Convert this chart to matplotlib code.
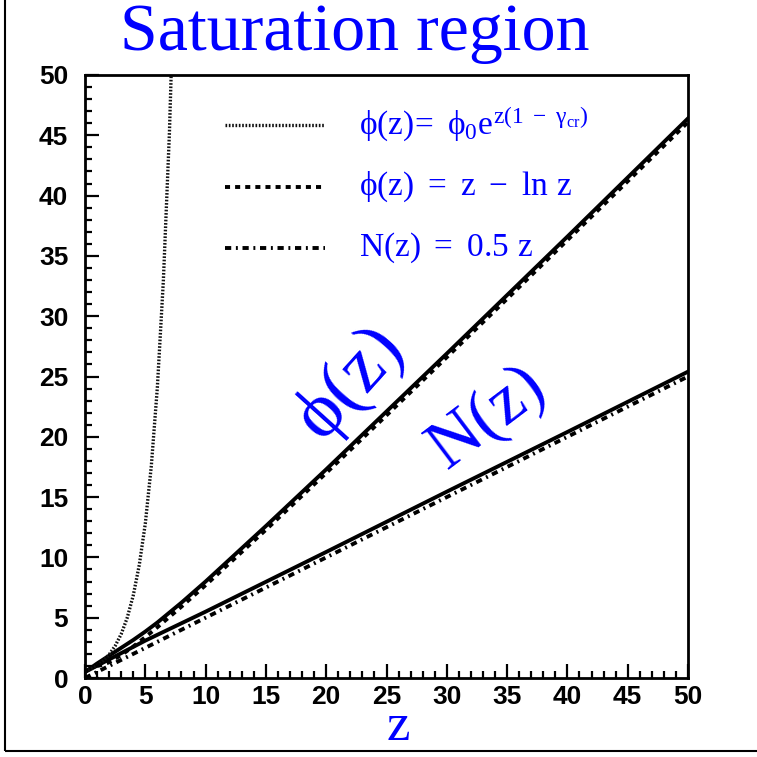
import matplotlib
matplotlib.use("Agg")
import matplotlib.pyplot as plt
from matplotlib.lines import Line2D
from matplotlib.patches import Rectangle

plt.rcParams['mathtext.fontset'] = 'custom'
plt.rcParams['mathtext.rm'] = 'Liberation Serif'
plt.rcParams['mathtext.it'] = 'Liberation Serif'
plt.rcParams['mathtext.bf'] = 'Liberation Serif:bold'

# ---------------- data ----------------
# exponential growth  phi0 * exp(z(1-gamma_cr))
z_exp = [0, 0.5, 1, 1.5, 2, 2.5, 3, 3.5, 4, 4.5, 5, 5.5, 6, 6.5, 7, 7.5]
phi_exp = [0.55, 0.75, 1.03, 1.42, 1.94, 2.66, 3.64, 4.99, 6.84, 9.37,
           12.8, 17.6, 24.1, 33.0, 45.2, 62.0]

# phi(z) = z - ln z (dashed)
z_phi = [1, 1.5, 2, 3, 4, 5, 6, 8, 10, 15, 20, 25, 30, 35, 40, 45, 50]
phi_asym = [1.0, 1.09, 1.31, 1.90, 2.61, 3.39, 4.21, 5.92, 7.70, 12.29,
            17.0, 21.78, 26.6, 31.44, 36.31, 41.19, 46.09]

# N(z) = 0.5 z (dash-dot)
z_n = [0, 50]
n_asym = [0.0, 25.0]

# numerical solutions (solid)
z_phi_sol = [0, 1, 2, 3, 4, 5, 6, 8, 10, 15, 20, 25, 30, 35, 40, 45, 50]
phi_sol = [0.5, 1.2, 1.85, 2.5, 3.15, 3.85, 4.6, 6.25, 8.0, 12.6, 17.3,
           22.1, 26.9, 31.75, 36.6, 41.5, 46.4]
z_n_sol = [0, 5, 10, 20, 30, 40, 50]
n_sol = [0.5, 3.1, 5.5, 10.45, 15.45, 20.4, 25.4]

x_ticks = [0, 5, 10, 15, 20, 25, 30, 35, 40, 45, 50]
y_ticks = [0, 5, 10, 15, 20, 25, 30, 35, 40, 45, 50]

legend_labels = [r'$\phi(z)\!=\ \phi_0e^{z(1\ -\ \gamma_{cr})}$',
                 r'$\phi(z)\ =\ z\ -\ \mathrm{ln}\ z$',
                 r'$N(z)\ =\ 0.5\ z$']

# ---------------- styles ----------------
sty_exp = dict(color='#111111', lw=2.4, linestyle=(0, (0.5, 0.5)))
sty_phi = dict(color='black', lw=2.8, linestyle=(0, (1.3, 1.3)))
sty_n = dict(color='black', lw=2.8, linestyle=(0, (1.6, 1.2, 0.5, 1.2)))
sty_sol = dict(color='black', lw=2.8, linestyle='-')

W = 757
fig = plt.figure(figsize=(W / 100, W / 100), dpi=100)
fig.patch.set_facecolor('white')

ax = fig.add_axes([85 / W, 1 - 678 / W, 603 / W, 603 / W])
ax.set_xlim(0, 50)
ax.set_ylim(0, 50)

ax.plot(z_phi_sol, phi_sol, **sty_sol)
ax.plot(z_n_sol, n_sol, **sty_sol)
ax.plot(z_exp, phi_exp, **sty_exp)
ax.plot(z_phi, phi_asym, **sty_phi)
ax.plot(z_n, n_asym, **sty_n)

# axes styling (ROOT-like)
for s in ax.spines.values():
    s.set_linewidth(2.0)
ax.set_xticks(x_ticks)
ax.set_yticks(y_ticks)
ax.set_xticks([i for i in range(0, 51) if i % 5], minor=True)
ax.set_yticks([i for i in range(0, 51) if i % 5], minor=True)
ax.tick_params(which='both', direction='in', top=False, right=False, width=1.6)
ax.tick_params(which='major', length=10)
ax.tick_params(which='minor', length=5)
ax.tick_params(axis='x', which='major', pad=5)
ax.tick_params(axis='y', which='major', pad=12)
for lab in ax.get_xticklabels() + ax.get_yticklabels():
    lab.set_fontfamily('Liberation Sans')
    lab.set_fontweight('bold')
    lab.set_fontsize(19)

# legend (manual)
leg_y = [0.917, 0.814, 0.713]
for y, sty, lab in zip(leg_y, [sty_exp, sty_phi, sty_n], legend_labels):
    ax.add_line(Line2D([0.232, 0.398], [y, y], transform=ax.transAxes, **sty))
    ax.text(0.455, y, lab, transform=ax.transAxes, color='blue',
            fontsize=24, va='center', ha='left')

# rotated curve labels
ax.text(22.0, 24.3, r'$\phi(z)$', color='blue', fontsize=55, rotation=48,
        ha='center', va='center')
ax.text(33.3, 21.4, r'$N(z)$', color='blue', fontsize=50, rotation=37,
        ha='center', va='center')

# title and x label
fig.text(355 / W, 1 - 50 / W, 'Saturation region', color='blue',
         fontsize=49, family='Liberation Serif', ha='center', va='baseline')
fig.text(398 / W, 1 - 740 / W, 'z', color='blue', fontsize=38,
         family='Liberation Serif', ha='center', va='baseline')

# canvas frame
fig.add_artist(Rectangle((5 / W, 1 - 751 / W), 1.5, 1.5, fill=False,
                         lw=1.5, edgecolor='black', transform=fig.transFigure,
                         clip_on=False))

fig.savefig('out.png', dpi=100)
